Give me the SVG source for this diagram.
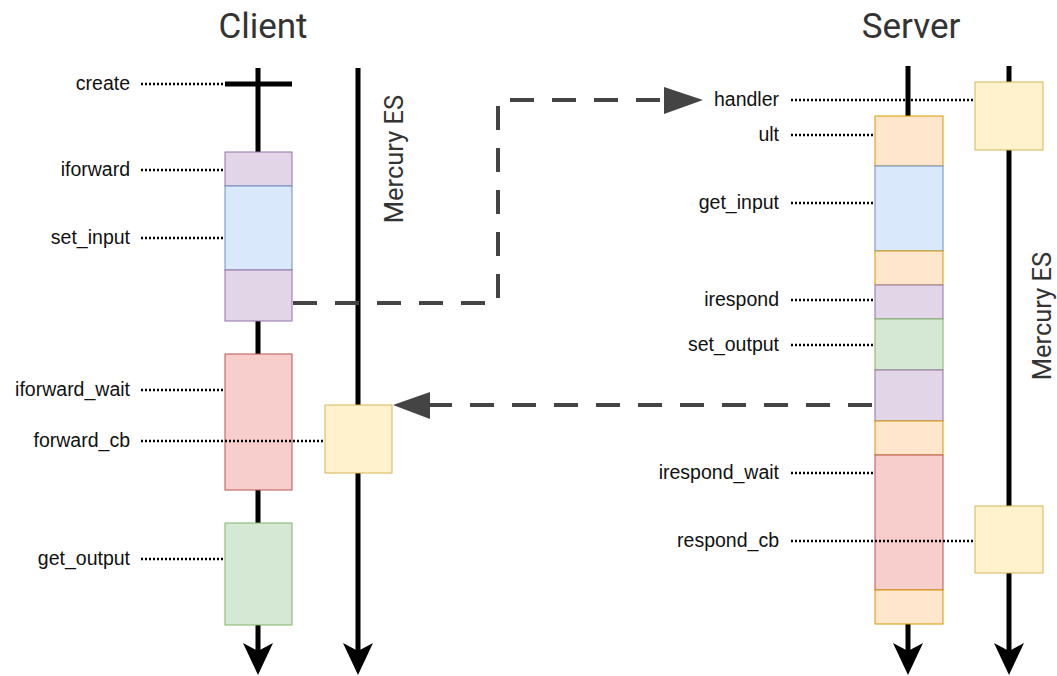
<svg xmlns="http://www.w3.org/2000/svg" width="1057" height="676" viewBox="0 0 1057 676">
  <style>
    .title { font-family: Roboto, "Liberation Sans", sans-serif; font-size: 35px; fill: #333333; text-anchor: middle; }
    .es { font-family: Roboto, "Liberation Sans", sans-serif; font-size: 25.5px; fill: #333333; text-anchor: middle; }
    .lbl { font-family: "Liberation Sans", Arial, sans-serif; font-size: 19.5px; fill: #111111; text-anchor: end; }
    .life { stroke: #000000; stroke-width: 5; fill: none; }
    .dot { stroke: #000000; stroke-width: 2.4; stroke-dasharray: 2 2; fill: none; }
    .dash { stroke: #444444; stroke-width: 4; stroke-dasharray: 24 18; fill: none; }
    .purple { fill: #e1d5e7; stroke: #9673a6; stroke-width: 1; }
    .blue { fill: #dae8fc; stroke: #6c8ebf; stroke-width: 1; }
    .red { fill: #f8cecc; stroke: #b85450; stroke-width: 1; }
    .green { fill: #d5e8d4; stroke: #82b366; stroke-width: 1; }
    .yellow { fill: #fff2cc; stroke: #d6b656; stroke-width: 1; }
    .orange { fill: #ffe6cc; stroke: #d79b00; stroke-width: 1; }
    .head { fill: #000000; }
  </style>

  <!-- headings -->
  <text class="title" x="263" y="38">Client</text>
  <text class="title" x="911" y="38">Server</text>

  <!-- lifelines -->
  <g id="lifelines">
    <line class="life" x1="258" y1="68" x2="258" y2="655"/>
    <line class="life" x1="225" y1="84" x2="292" y2="84"/>
    <path class="head" d="M258 675 L243 643 L258 651 L273 643 Z"/>
    <line class="life" x1="358" y1="68" x2="358" y2="655"/>
    <path class="head" d="M358 675 L343 643 L358 651 L373 643 Z"/>
    <line class="life" x1="908" y1="66" x2="908" y2="655"/>
    <path class="head" d="M908 675 L893 643 L908 651 L923 643 Z"/>
    <line class="life" x1="1009" y1="66" x2="1009" y2="655"/>
    <path class="head" d="M1009 675 L994 643 L1009 651 L1024 643 Z"/>
  </g>

  <text class="es" transform="translate(403 159) rotate(-90)">Mercury ES</text>
  <text class="es" transform="translate(1051 316) rotate(-90)">Mercury ES</text>

  <!-- client activity blocks -->
  <g id="client-iforward"><rect class="purple" x="225" y="152" width="67" height="34"/></g>
  <g id="client-set-input"><rect class="blue" x="225" y="186" width="67" height="84"/></g>
  <g id="client-send"><rect class="purple" x="225" y="270" width="67" height="51"/></g>
  <g id="client-iforward-wait"><rect class="red" x="225" y="354" width="67" height="136"/></g>
  <g id="client-get-output"><rect class="green" x="225" y="523" width="67" height="102"/></g>
  <g id="client-forward-cb"><rect class="yellow" x="325" y="405" width="67" height="68"/></g>

  <!-- server activity blocks -->
  <g id="server-ult"><rect class="orange" x="875" y="116" width="68" height="50"/></g>
  <g id="server-get-input"><rect class="blue" x="875" y="166" width="68" height="85"/></g>
  <g id="server-ult-2"><rect class="orange" x="875" y="251" width="68" height="34"/></g>
  <g id="server-irespond"><rect class="purple" x="875" y="285" width="68" height="34"/></g>
  <g id="server-set-output"><rect class="green" x="875" y="319" width="68" height="51"/></g>
  <g id="server-send"><rect class="purple" x="875" y="370" width="68" height="51"/></g>
  <g id="server-ult-3"><rect class="orange" x="875" y="421" width="68" height="34"/></g>
  <g id="server-irespond-wait"><rect class="red" x="875" y="455" width="68" height="135"/></g>
  <g id="server-ult-4"><rect class="orange" x="875" y="590" width="68" height="34"/></g>
  <g id="server-handler"><rect class="yellow" x="975" y="82" width="68" height="68"/></g>
  <g id="server-respond-cb"><rect class="yellow" x="975" y="506" width="68" height="67"/></g>

  <!-- call labels with leader lines -->
  <g id="labels">
    <text class="lbl" x="130" y="90">create</text>
    <line class="dot" x1="141" y1="84" x2="225" y2="84"/>
    <text class="lbl" x="130" y="176">iforward</text>
    <line class="dot" x1="141" y1="170" x2="225" y2="170"/>
    <text class="lbl" x="130" y="244">set_input</text>
    <line class="dot" x1="141" y1="238" x2="225" y2="238"/>
    <text class="lbl" x="130" y="396">iforward_wait</text>
    <line class="dot" x1="141" y1="390" x2="225" y2="390"/>
    <text class="lbl" x="130" y="447">forward_cb</text>
    <line class="dot" x1="141" y1="441" x2="325" y2="441"/>
    <text class="lbl" x="130" y="565">get_output</text>
    <line class="dot" x1="141" y1="559" x2="225" y2="559"/>

    <text class="lbl" x="779" y="106">handler</text>
    <line class="dot" x1="791" y1="100" x2="975" y2="100"/>
    <text class="lbl" x="779" y="141">ult</text>
    <line class="dot" x1="791" y1="135" x2="875" y2="135"/>
    <text class="lbl" x="779" y="209">get_input</text>
    <line class="dot" x1="791" y1="203" x2="875" y2="203"/>
    <text class="lbl" x="779" y="306">irespond</text>
    <line class="dot" x1="791" y1="300" x2="875" y2="300"/>
    <text class="lbl" x="779" y="351">set_output</text>
    <line class="dot" x1="791" y1="345" x2="875" y2="345"/>
    <text class="lbl" x="779" y="479">irespond_wait</text>
    <line class="dot" x1="791" y1="473" x2="875" y2="473"/>
    <text class="lbl" x="779" y="547">respond_cb</text>
    <line class="dot" x1="791" y1="541" x2="975" y2="541"/>
  </g>

  <!-- request / response messages -->
  <g id="connectors">
    <path class="dash" d="M293 303 H498 V100 H666"/>
    <polygon fill="#444444" points="664,87 703,100 664,114"/>
    <path class="dash" d="M872 405 H430"/>
    <polygon fill="#444444" points="393,405 430,392 430,419"/>
  </g>
</svg>
